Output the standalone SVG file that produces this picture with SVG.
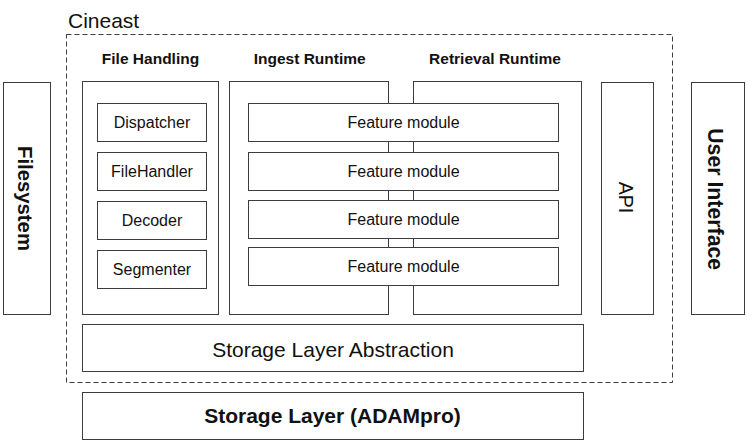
<svg xmlns="http://www.w3.org/2000/svg" width="747" height="443" viewBox="0 0 747 443">
<style>
  .box { fill: #ffffff; stroke: #3c3c3c; stroke-width: 1; }
  .dash { fill: none; stroke: #3c3c3c; stroke-width: 1; stroke-dasharray: 5 3; }
  text { font-family: "Liberation Sans", Arial, Helvetica, sans-serif; fill: #111111; }
  .hdr { font-size: 15.5px; font-weight: bold; text-anchor: middle; }
  .lbl { font-size: 16px; text-anchor: middle; }
  .big { font-size: 21px; text-anchor: middle; }
  .bigb { font-size: 21px; font-weight: bold; text-anchor: middle; }
</style>
<rect width="747" height="443" fill="#ffffff"/>

<g id="cineast">
  <rect class="dash" x="66.5" y="34.5" width="606" height="348"/>
  <text x="68" y="28" style="font-size:21px">Cineast</text>
</g>

<g id="filesystem">
  <rect class="box" x="3.5" y="82.5" width="47" height="232"/>
  <text class="bigb" transform="translate(17.5,198.5) rotate(90)" style="font-size:20.3px">Filesystem</text>
</g>

<g id="file-handling">
  <text class="hdr" x="150.5" y="63.5">File Handling</text>
  <rect class="box" x="82.5" y="81.5" width="136" height="233"/>
</g>

<g id="ingest-runtime">
  <text class="hdr" x="309.7" y="63.5">Ingest Runtime</text>
  <rect class="box" x="229.5" y="81.5" width="159" height="233"/>
</g>

<g id="retrieval-runtime">
  <text class="hdr" x="495" y="63.5">Retrieval Runtime</text>
  <rect class="box" x="413.5" y="81.5" width="168" height="233"/>
</g>

<g id="dispatcher">
  <rect class="box" x="97.5" y="103.5" width="109" height="38"/>
  <text class="lbl" x="152" y="128">Dispatcher</text>
</g>
<g id="filehandler">
  <rect class="box" x="97.5" y="152.5" width="109" height="38"/>
  <text class="lbl" x="152" y="177">FileHandler</text>
</g>
<g id="decoder">
  <rect class="box" x="97.5" y="201.5" width="109" height="38"/>
  <text class="lbl" x="152" y="226">Decoder</text>
</g>
<g id="segmenter">
  <rect class="box" x="97.5" y="250.5" width="109" height="38"/>
  <text class="lbl" x="152" y="275">Segmenter</text>
</g>

<g id="feature-module-1">
  <rect class="box" x="248.5" y="103.5" width="310" height="38"/>
  <text class="lbl" x="403.5" y="128">Feature module</text>
</g>
<g id="feature-module-2">
  <rect class="box" x="248.5" y="152.5" width="310" height="38"/>
  <text class="lbl" x="403.5" y="177">Feature module</text>
</g>
<g id="feature-module-3">
  <rect class="box" x="248.5" y="200.5" width="310" height="38"/>
  <text class="lbl" x="403.5" y="225">Feature module</text>
</g>
<g id="feature-module-4">
  <rect class="box" x="248.5" y="247.5" width="310" height="38"/>
  <text class="lbl" x="403.5" y="272">Feature module</text>
</g>

<g id="api">
  <rect class="box" x="601.5" y="82.5" width="52" height="232"/>
  <text class="big" transform="translate(619,197.5) rotate(90)" style="font-size:19.6px">API</text>
</g>

<g id="user-interface">
  <rect class="box" x="691.5" y="82.5" width="53" height="232"/>
  <text class="bigb" transform="translate(708,199.2) rotate(90)" style="font-size:21.3px">User Interface</text>
</g>

<g id="storage-layer-abstraction">
  <rect class="box" x="82.5" y="324.5" width="501" height="47"/>
  <text class="big" x="333" y="356.5">Storage Layer Abstraction</text>
</g>

<g id="storage-layer">
  <rect class="box" x="82.5" y="392.5" width="501" height="47"/>
  <text class="bigb" x="332.5" y="423">Storage Layer (ADAMpro)</text>
</g>

<g id="connectors"></g>
</svg>
